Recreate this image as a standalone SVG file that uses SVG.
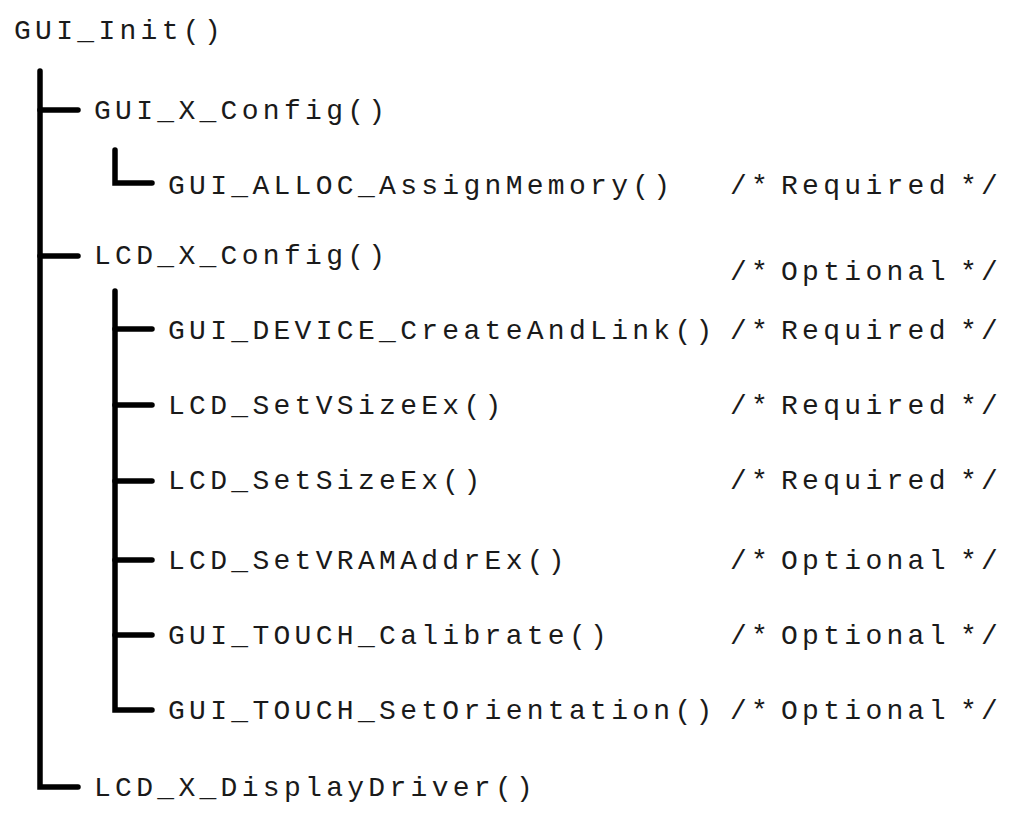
<svg xmlns="http://www.w3.org/2000/svg" width="1032" height="830" viewBox="0 0 1032 830">
  <style>
    text { font-family: "Liberation Mono", "Courier New", monospace; font-size: 28px; letter-spacing: 4.3px; fill: #1a1a1a; }
    .tree { fill: none; stroke: #000; stroke-width: 5.5; stroke-linecap: round; stroke-linejoin: miter; }
  </style>
  <rect width="1032" height="830" fill="#fff"/>

  <!-- tree connectors -->
  <g id="connectors" class="tree">
    <path d="M40 71 V787 H78"/>
    <path d="M40 110 H78"/>
    <path d="M40 256 H78"/>
    <path d="M115 150 V183 H152"/>
    <path d="M115 291 V710 H152"/>
    <path d="M115 329 H152"/>
    <path d="M115 405 H152"/>
    <path d="M115 481 H152"/>
    <path d="M115 560 H152"/>
    <path d="M115 635 H152"/>
  </g>

  <!-- comment columns: opening at 730, word at 781, closing at 960 -->
  <g id="gui-init"><text x="14" y="39">GUI_Init()</text></g>
  <g id="gui-x-config"><text x="94" y="119">GUI_X_Config()</text></g>
  <g id="gui-alloc-assignmemory"><text x="168" y="194">GUI_ALLOC_AssignMemory()</text><text y="194"><tspan x="730">/*</tspan><tspan x="781">Required</tspan><tspan x="960">*/</tspan></text></g>
  <g id="lcd-x-config"><text x="94" y="264">LCD_X_Config()</text><text y="280"><tspan x="730">/*</tspan><tspan x="781">Optional</tspan><tspan x="960">*/</tspan></text></g>
  <g id="gui-device-createandlink"><text x="168" y="339">GUI_DEVICE_CreateAndLink()</text><text y="339"><tspan x="730">/*</tspan><tspan x="781">Required</tspan><tspan x="960">*/</tspan></text></g>
  <g id="lcd-setvsizeex"><text x="168" y="414">LCD_SetVSizeEx()</text><text y="414"><tspan x="730">/*</tspan><tspan x="781">Required</tspan><tspan x="960">*/</tspan></text></g>
  <g id="lcd-setsizeex"><text x="168" y="489">LCD_SetSizeEx()</text><text y="489"><tspan x="730">/*</tspan><tspan x="781">Required</tspan><tspan x="960">*/</tspan></text></g>
  <g id="lcd-setvramaddrex"><text x="168" y="569">LCD_SetVRAMAddrEx()</text><text y="569"><tspan x="730">/*</tspan><tspan x="781">Optional</tspan><tspan x="960">*/</tspan></text></g>
  <g id="gui-touch-calibrate"><text x="168" y="644">GUI_TOUCH_Calibrate()</text><text y="644"><tspan x="730">/*</tspan><tspan x="781">Optional</tspan><tspan x="960">*/</tspan></text></g>
  <g id="gui-touch-setorientation"><text x="168" y="719">GUI_TOUCH_SetOrientation()</text><text y="719"><tspan x="730">/*</tspan><tspan x="781">Optional</tspan><tspan x="960">*/</tspan></text></g>
  <g id="lcd-x-displaydriver"><text x="94" y="796">LCD_X_DisplayDriver()</text></g>
</svg>
